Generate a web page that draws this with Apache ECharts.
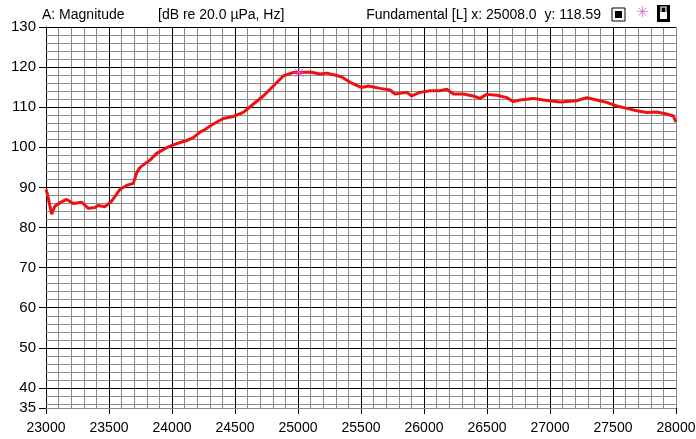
<!DOCTYPE html>
<html><head><meta charset="utf-8">
<script src="https://cdn.jsdelivr.net/npm/echarts@6/dist/echarts.min.js"></script>
<style>html,body{margin:0;padding:0;background:#fff}#c{width:696px;height:439px}</style>
</head><body><div id="c"></div>
<script>
var freqs = [23000,23010,23045,23070,23111,23164,23217,23283,23336,23389,23413,23468,23521,23587,23640,23693,23720,23746,23825,23878,23958,24000,24064,24117,24169,24222,24249,24328,24407,24487,24566,24646,24725,24804,24884,24963,25008,25095,25175,25228,25307,25350,25413,25505,25558,25651,25730,25770,25863,25902,25968,26048,26127,26180,26233,26312,26391,26445,26498,26577,26656,26709,26762,26868,26947,27080,27212,27291,27371,27450,27530,27609,27688,27768,27847,27926,27979,28000];
var mags = [89.5,88.5,83.3,85.3,86.2,87.0,86.0,86.3,84.8,85.0,85.5,85.2,86.6,89.5,90.5,91.0,93.7,95.0,96.8,98.5,99.9,100.5,101.2,101.7,102.4,103.8,104.2,105.8,107.2,107.7,108.7,110.8,112.8,115.3,117.8,118.7,118.6,118.8,118.3,118.5,117.9,117.5,116.2,114.9,115.3,114.7,114.3,113.3,113.7,112.8,113.7,114.1,114.1,114.5,113.3,113.3,112.8,112.2,113.2,113.0,112.4,111.4,111.8,112.2,111.8,111.3,111.6,112.4,111.8,111.2,110.3,109.7,109.1,108.7,108.8,108.3,107.8,106.3];
var yTickLabels = [35,40,50,60,70,80,90,100,110,120,130];
var cursorX = 25008.0, cursorY = 118.59;

var xMin = 23000, xMax = 28000, xMajor = 500, xMinor = 100;
var yMin = 35, yMax = 130, yMajor = 10, yMinor = 2;

var minorLines = [], majorLines = [];
var minorStyle = {color:'#8a8a8a', width:1, type:'solid'};
var majorStyle = {color:'#000', width:1, type:'solid'};
for (var v = xMin + xMinor; v < xMax; v += xMinor) {
  if (v % xMajor !== 0) minorLines.push({xAxis:v, lineStyle:minorStyle});
}
for (var w = yMin + 1; w < yMax; w += 1) {
  if (w % yMinor === 0 && w % yMajor !== 0) minorLines.push({yAxis:w, lineStyle:minorStyle});
}
minorLines.push({yAxis:yMin, lineStyle:minorStyle});
for (var v2 = xMin + xMajor; v2 <= xMax; v2 += xMajor) majorLines.push({xAxis:v2, lineStyle:(v2 === xMax ? minorStyle : majorStyle)});
for (var w2 = 40; w2 <= yMax; w2 += yMajor) majorLines.push({yAxis:w2, lineStyle:majorStyle});

var fontAxis = '"Liberation Sans",Arial,sans-serif';
var chart = echarts.init(document.getElementById('c'));
var asterisk = 'path://M9,0 L11,0 L11,7.6 L16.5,2.1 L17.9,3.5 L12.4,9 L20,9 L20,11 L12.4,11 L17.9,16.5 L16.5,17.9 L11,12.4 L11,20 L9,20 L9,12.4 L3.5,17.9 L2.1,16.5 L7.6,11 L0,11 L0,9 L7.6,9 L2.1,3.5 L3.5,2.1 L9,7.6 Z';
chart.setOption({
  animation:false,
  backgroundColor:'#fff',
  grid:{left:46, right:20, top:27, bottom:31, show:false, containLabel:false, outerBoundsMode:'none'},
  xAxis:{type:'value', min:xMin, max:xMax, interval:xMajor,
    axisLine:{show:true, onZero:false, lineStyle:{color:'#000', width:1}},
    axisTick:{show:true, length:6, lineStyle:{color:'#000'}},
    axisLabel:{color:'#000', fontSize:14, fontFamily:fontAxis, margin:13, formatter:function(v){return String(v);}},
    splitLine:{show:false}},
  yAxis:{type:'value', min:yMin, max:yMax,
    axisLine:{show:true, onZero:false, lineStyle:{color:'#000', width:1}},
    axisTick:{show:true, length:7, customValues:yTickLabels, lineStyle:{color:'#000'}},
    axisLabel:{color:'#000', fontSize:15, fontFamily:fontAxis, margin:10, customValues:yTickLabels, formatter:function(v){return String(v);}},
    splitLine:{show:false}},
  graphic:[
    {type:'text', left:42, top:8, style:{text:'A: Magnitude', fill:'#000', font:'14px '+fontAxis}},
    {type:'text', left:158, top:8, style:{text:'[dB re 20.0 µPa, Hz]', fill:'#000', font:'14px '+fontAxis}},
    {type:'text', right:95, top:8, style:{text:'Fundamental [L] x: 25008.0  y: 118.59', fill:'#000', font:'14px '+fontAxis}},
    {type:'rect', shape:{x:612, y:8, width:13, height:13}, style:{fill:'#fff', stroke:'#000', lineWidth:1}},
    {type:'rect', shape:{x:615, y:11, width:7, height:7}, style:{fill:'#000'}},
    {type:'text', left:636, top:6, style:{text:'✳', fill:'#e070e0', font:'15px "DejaVu Sans"'}},
    {type:'rect', shape:{x:657, y:5, width:13, height:17}, style:{fill:'#000'}},
    {type:'rect', shape:{x:660, y:12, width:7, height:7}, style:{fill:'#fff'}},
    {type:'rect', shape:{x:661, y:7, width:5, height:6}, style:{fill:'none', stroke:'#fff', lineWidth:1.2}}
  ],
  series:[
    {type:'line', data:[], silent:true, z:1,
      markLine:{silent:true, symbol:['none','none'], label:{show:false}, animation:false, data:minorLines.concat(majorLines)}},
    {type:'line', data:freqs.map(function(f,i){return [f,mags[i]];}), showSymbol:false, z:5,
      lineStyle:{color:'#ee1111', width:3}, itemStyle:{color:'#ee1111'}},
    {type:'scatter', data:[[cursorX,cursorY]], symbol:asterisk, symbolSize:11, z:6,
      itemStyle:{color:'#e050d0'}}
  ]
});
</script></body></html>
